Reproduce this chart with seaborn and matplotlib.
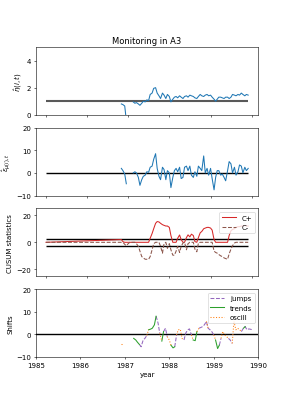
import numpy as np
import pandas as pd
import seaborn as sns
import matplotlib
matplotlib.use("Agg")
import matplotlib.pyplot as plt
import matplotlib.dates as mdates

# semi-monthly grid of the monitored series
dates = pd.date_range("1986-11-01", periods=75, freq="SMS")
start = pd.Timestamp("1985-01-01")
end_axis = pd.Timestamp("1990-01-01")

eta = [0.8, 0.75, 0.65, -0.4, np.nan, np.nan, np.nan, 0.95, 0.85, 0.9,
       0.8, 0.7, 0.85, 1.0, 0.95, 1.1, 1.05, 1.5, 1.6, 1.95,
       2.0, 1.6, 1.4, 1.2, 1.6, 1.45, 1.2, 1.5, 1.35, 0.95,
       1.15, 1.3, 1.35, 1.25, 1.4, 1.3, 1.2, 1.35, 1.4, 1.3,
       1.45, 1.4, 1.35, 1.25, 1.2, 1.35, 1.5, 1.4, 1.35, 1.45,
       1.5, 1.4, 1.45, 1.3, 1.15, 1.0, 1.15, 1.3, 1.3, 1.25,
       1.2, 1.3, 1.3, 1.2, 1.3, 1.5, 1.45, 1.4, 1.5, 1.45,
       1.6, 1.5, 1.4, 1.5, 1.45]
eta_ref = 1.0

eps = [2, 1, -0.5, -4.8, np.nan, np.nan, np.nan, 0, 0.5, 0,
       -2, -5.5, -3, -1.5, -1, 0.5, 0.3, 2.5, 3, 6,
       8.5, 2, -1.5, -3, 2.5, 1.5, -3, 1, 0, -6.5,
       -2, 1, 2, 0.5, 2.5, -2.5, -2, 2.5, 3, 1,
       3, -1, -2, 0.5, -1.5, 3, 2, 1, 7.5, 0,
       2, -1, 2, -2.5, -7.5, -2, 1, 1, -1, -0.5,
       -2, -3.5, 1, 5, 4, 0, 2.5, -1, 0.5, 3.5,
       3, 0, 2.5, 1, 2]
eps_ref = 0.0

# CUSUM statistics, first value is at the start of 1985
c_plus = [0,
          2.0, 0.5, 0, 0, 0, 0, 0, 0, 0, 0,
          0, 0, 0, 0, 0, 0, 0, 3, 6.5, 10,
          14, 15.3, 15, 14, 13, 12.5, 12, 12, 11, 5,
          0, 0, 0, 3, 5.4, 2, 0, 0, 3.5, 5.5,
          4, 6, 5, 0.5, 0, 3.5, 7, 8, 10, 10.5,
          11, 11, 10.5, 9, 2, 0, 0, 0, 0, 0,
          0, 0, 0, 5, 8.5, 9.5, 10, 11, 11.5, 11.5,
          12, 12, 12.5, 12, 12]
c_minus = [0,
           0, 0, -1.5, -2.5, -1, 0, 0, 0, 0, -1,
           -3, -6.5, -10.5, -11.5, -12.5, -12.5, -12.5, -10.5, -5.5, -1,
           0, 0, 0, -3, -8, -1, 0, -4.5, -1, -5.5,
           -9.5, -9.5, -6.5, -3, -7.5, -3, -0.5, 0, -5.5, -1,
           0, 0, 0, -5, -7, -0.5, 0, 0, 0, 0,
           0, 0, 0, 0, -6.5, -7.5, -8, -9, -10, -10.5,
           -11.5, -12, -12.5, -8.5, -5, -2.5, -0.5, 0, 0, 0,
           0, 0, 0, 0, 0]
threshold = 2.7

shift = [np.nan, np.nan, -4.3, -4.3, np.nan, np.nan, np.nan, np.nan, np.nan, -1.8,
         -2.5, -3.5, -4.5, -5.5, -2.5, -1.8, -0.5, 2, 2.3, 2.7,
         4.2, 8, 5, 0.5, -3, 1.2, 2.7, -1, -2.5, -4.8,
         -6, -5.5, -0.3, 2, 2.2, -1.8, -2.5, 0.5, 2, 2.4,
         -0.3, -2.5, -2.8, 1.2, 2.7, 3, 3.4, 4.2, 5.7, 2.7,
         2, 1.2, -0.3, -2.5, -6.3, -4.8, -1.8, 1.2, -0.3, -1,
         -1.8, -2.5, -4, 5.7, 2, 2.7, 2, 1.2, 2.7, 3.4,
         2, 2.4, 2.2, 2, np.nan]
# J = jump, T = trend, O = oscillation, . = none
shift_kind = ("..OO....." + "TTTJJJJO" + "TTTTJJOT" + "JJOOTTJ" + "OOOOJJJJO"
              + "TTOJJJJO" + "JJJOTTJ" + "OOOOJJOOOOO" + "JTJJJJJ.")
kind_names = {"J": "jumps", "T": "trends", "O": "oscill"}

assert len(shift_kind) == len(dates)


def gap_frame(values, x=dates):
    v = np.array(values, dtype=float)
    ok = ~np.isnan(v)
    return pd.DataFrame({"date": x[ok], "value": v[ok], "seg": np.cumsum(~ok)[ok]})


cusum_dates = pd.DatetimeIndex([start]).append(dates)
cusum_df = pd.concat([gap_frame(c_plus, cusum_dates).assign(series="C+"),
                      gap_frame(c_minus, cusum_dates).assign(series="C-")])

sv = np.array(shift, dtype=float)
codes = np.array(list(shift_kind))
parts = []
for code, name in kind_names.items():
    m = codes == code
    m = (m | np.r_[False, m[:-1]]) & ~np.isnan(sv)
    parts.append(pd.DataFrame({"date": dates[m], "value": sv[m],
                               "seg": np.cumsum(~m)[m], "kind": name}))
shift_df = pd.concat(parts)

fig, axes = plt.subplots(4, 1, figsize=(5.74, 8.2), dpi=50)
ax1, ax2, ax3, ax4 = axes
ax2.sharex(ax1)
ax3.sharex(ax1)

# 1. estimated level
ax1.hlines(eta_ref, start, dates[-1], color="0.35", lw=3, zorder=1)
sns.lineplot(data=gap_frame(eta), x="date", y="value", units="seg", estimator=None,
             color="tab:blue", ax=ax1, zorder=2)
ax1.set_ylim(0, 5)
ax1.set_yticks([0, 2, 4])
ax1.set_ylabel(r"$\hat{\eta}(i,t)$")
ax1.set_title("Monitoring in A3")

# 2. residuals
ax2.hlines(eps_ref, start, dates[-1], color="black", lw=2, zorder=1)
sns.lineplot(data=gap_frame(eps), x="date", y="value", units="seg", estimator=None,
             color="tab:blue", ax=ax2, zorder=2)
ax2.set_ylim(-10, 20)
ax2.set_yticks([-10, 0, 10, 20])
ax2.set_ylabel(r"$\hat{\epsilon}_{\mu(i),t}$")

# 3. CUSUM
ax3.hlines([threshold, -threshold], start, dates[-1], color="black", lw=2)
sns.lineplot(data=cusum_df, x="date", y="value", hue="series", style="series",
             units="seg", estimator=None,
             palette={"C+": "tab:red", "C-": "tab:brown"},
             dashes={"C+": "", "C-": (3.7, 1.6)}, ax=ax3)
ax3.set_ylim(-25, 25)
ax3.set_yticks([-20, 0, 20])
ax3.set_ylabel("CUSUM statistics")
sns.move_legend(ax3, "upper right", title=None)

# 4. shifts
ax4.axhline(0, color="black", lw=2)
sns.lineplot(data=shift_df, x="date", y="value", hue="kind", style="kind",
             units="seg", estimator=None,
             hue_order=["jumps", "trends", "oscill"], style_order=["jumps", "trends", "oscill"],
             palette={"jumps": "tab:purple", "trends": "tab:green", "oscill": "tab:orange"},
             dashes={"jumps": (3.7, 1.6), "trends": "", "oscill": (1, 1.65)}, ax=ax4)
ax4.set_ylim(-10, 20)
ax4.set_yticks([-10, 0, 10, 20])
ax4.set_xlim(start, end_axis)
ax4.set_ylabel("Shifts")
ax4.set_xlabel("year")
sns.move_legend(ax4, "upper right", title=None)

for ax in axes:
    ax.xaxis.set_major_locator(mdates.YearLocator())
    ax.xaxis.set_major_formatter(mdates.DateFormatter("%Y"))
for ax in (ax1, ax2, ax3):
    ax.set_xlabel("")
    ax.tick_params(labelbottom=False)

fig.subplots_adjust(left=0.125, right=0.9, top=0.883, bottom=0.127, hspace=0.19)
fig.savefig("out.png", dpi=50)
